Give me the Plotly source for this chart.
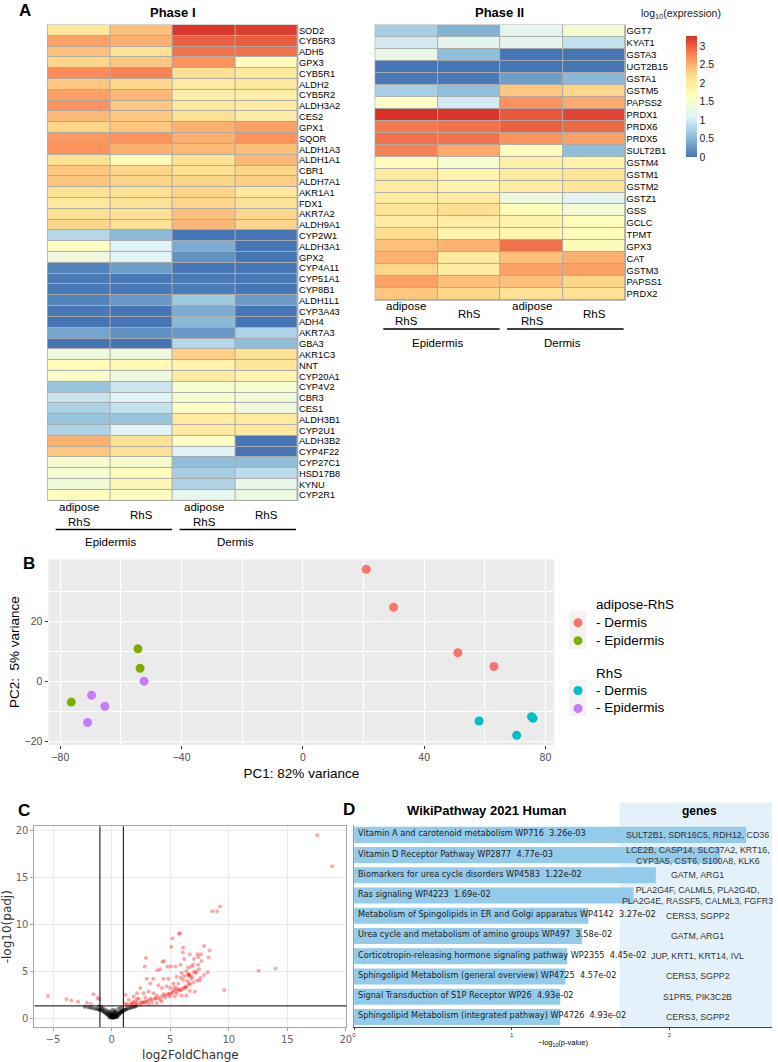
import math
import plotly.graph_objects as go

W, H = 778, 1062


def px(x):
    return x / W


def py(y):
    return 1 - y / H


# ---------------- data ----------------
columns = ["adipose<br>RhS", "RhS", "adipose<br>RhS", "RhS"]
groups = ["Epidermis", "Dermis"]

phase1_genes = ["SOD2", "CYB5R3", "ADH5", "GPX3", "CYB5R1", "ALDH2", "CYB5R2", "ALDH3A2", "CES2",
                "GPX1", "SQOR", "ALDH1A3", "ALDH1A1", "CBR1", "ALDH7A1", "AKR1A1", "FDX1", "AKR7A2",
                "ALDH9A1", "CYP2W1", "ALDH3A1", "GPX2", "CYP4A11", "CYP51A1", "CYP8B1", "ALDH1L1",
                "CYP3A43", "ADH4", "AKR7A3", "GBA3", "AKR1C3", "NNT", "CYP20A1", "CYP4V2", "CBR3",
                "CES1", "ALDH3B1", "CYP2U1", "ALDH3B2", "CYP4F22", "CYP27C1", "HSD17B8", "KYNU", "CYP2R1"]
p1_epi_adipose = [2.05, 2.6, 2.4, 2.25, 2.75, 2.35, 2.6, 2.7, 2.45, 2.25, 2.65, 2.7, 2.15, 2.35, 2.35,
                  2.15, 2.05, 2.15, 2.25, 0.8, 1.6, 1.35, 0.1, 0.03, 0.02, 0.1, 0.02, 0.0, 0.35, 0.0,
                  1.35, 1.7, 1.55, 0.6, 0.95, 0.75, 0.6, 0.75, 2.5, 2.35, 1.5, 1.5, 1.4, 1.65]
p1_epi_rhs = [2.4, 2.5, 2.15, 2.35, 2.8, 2.25, 2.45, 2.35, 2.35, 2.35, 2.7, 2.5, 1.75, 2.25, 2.25,
              2.15, 2.15, 2.15, 2.15, 0.5, 1.1, 1.1, 0.3, 0.03, 0.02, 0.25, 0.0, 0.0, 0.2, 0.0,
              1.35, 1.75, 1.35, 0.95, 1.1, 0.9, 0.6, 1.1, 2.15, 2.15, 1.5, 1.65, 1.8, 1.65]
p1_derm_adipose = [3.25, 3.0, 2.9, 2.7, 2.15, 2.0, 1.95, 2.05, 2.15, 2.5, 2.5, 2.45, 2.15, 2.15, 2.25,
                   2.25, 2.25, 2.4, 2.45, 0.0, 0.4, 0.2, 0.0, 0.03, 0.05, 0.65, 0.4, 0.5, 0.25, 0.8,
                   2.3, 1.85, 2.0, 1.5, 1.5, 1.6, 2.0, 2.0, 1.6, 1.1, 0.55, 0.7, 0.75, 1.2]
p1_derm_rhs = [3.2, 3.02, 2.9, 1.7, 2.05, 2.05, 1.95, 2.0, 1.95, 2.6, 2.7, 2.4, 2.45, 2.25, 2.3,
               2.05, 2.15, 2.25, 2.25, 0.0, 0.0, 0.0, 0.0, 0.02, 0.0, 0.28, 0.0, 0.0, 0.75, 0.55,
               2.15, 2.1, 1.85, 1.5, 1.4, 1.35, 2.0, 2.05, 0.0, 0.0, 0.55, 0.85, 1.25, 1.3]

phase2_genes = ["GGT7", "KYAT1", "GSTA3", "UGT2B15", "GSTA1", "GSTM5", "PAPSS2", "PRDX1", "PRDX6",
                "PRDX5", "SULT2B1", "GSTM4", "GSTM1", "GSTM2", "GSTZ1", "GSS", "GCLC", "TPMT", "GPX3",
                "CAT", "GSTM3", "PAPSS1", "PRDX2"]
p2_epi_adipose = [0.7, 1.0, 1.25, 0.0, 0.02, 0.7, 1.55, 3.28, 2.85, 2.9, 2.8, 1.7, 2.0, 2.0, 2.0,
                  2.1, 2.0, 2.2, 2.4, 2.5, 2.25, 2.6, 2.35]
p2_epi_rhs = [0.45, 1.2, 0.55, 0.0, 0.02, 0.55, 1.0, 3.25, 2.9, 2.88, 2.55, 1.5, 1.85, 1.85, 2.0,
              2.2, 1.95, 1.85, 2.5, 2.0, 2.0, 2.4, 2.25]
p2_derm_adipose = [1.2, 1.2, 0.0, 0.0, 0.3, 2.35, 2.7, 3.05, 3.0, 2.7, 1.65, 1.9, 2.0, 2.0, 1.35,
                   1.7, 1.85, 1.8, 2.9, 2.4, 2.6, 2.4, 2.15]
p2_derm_rhs = [1.45, 0.9, 0.0, 0.0, 0.5, 2.25, 2.55, 3.15, 2.95, 2.6, 0.55, 1.85, 2.1, 2.1, 1.15,
               1.45, 1.7, 1.7, 1.7, 2.5, 2.6, 2.25, 2.15]

# PCA
pc1_adipose_dermis = [20.9, 29.9, 51.1, 63.0]
pc2_adipose_dermis = [37.4, 24.7, 9.5, 4.9]
pc1_adipose_epidermis = [-54.4, -53.7, -76.4]
pc2_adipose_epidermis = [10.8, 4.3, -7.0]
pc1_rhs_dermis = [58.1, 70.5, 75.4, 75.9]
pc2_rhs_dermis = [-13.3, -18.1, -11.9, -12.4]
pc1_rhs_epidermis = [-52.4, -69.7, -65.3, -71.0]
pc2_rhs_epidermis = [0.0, -4.7, -8.4, -13.8]

# volcano
sig_fc = [17.57, 18.83, 9.26, 9.0, 8.6, 12.56, 14.0, 9.63,
          5.74, 5.85, 5.18, 5.1, 6.1, 6.08, 7.9, 8.36, 2.93, 2.82, 4.34, 4.48, 6.67, 7.32, 7.63, 7.04,
          8.28, 7.69, 6.19, 4.78, 5.07, 5.46, 5.89, 6.53, 6.96, 7.38, 7.46, 3.91, 4.14, 3.57, 3.0,
          4.42, 4.84, 5.55, 5.97, 6.39, 6.6, 6.8, 6.1, 6.45, 7.2, 7.5, 5.27, 5.7, 3.3, 4.0, 4.3, 4.7,
          5.0, 5.4, 5.8, 6.25, 6.67, 7.1, 2.45, 2.17, 2.73, 3.15, 3.58, 3.86, 4.42, 4.84, 5.13, 5.55,
          5.97, 6.39, 1.88, 2.31, 2.87, 3.3, 3.72, 4.14, 4.56, 4.98, 5.4, 2.0, 2.59, 3.0, 3.44, 3.86,
          4.28, 1.74, 2.45, 2.17, 2.79, 3.15,
          1.18, 1.46, 1.83, 2.17, 1.18, 1.75, 1.3, 1.55, 2.05,
          2.5, 2.8, 3.1, 3.4, 3.7, 4.0, 4.3, 4.6, 4.9, 5.2, 5.5, 5.8, 6.1, 6.4, 6.7, 7.0, 7.3, 7.6,
          7.9, 8.2, 5.3, 5.6, 6.0, 6.3, 6.6, 6.9, 7.2, 6.5, 6.2, 5.9, 6.6, 6.7, 7.0, 6.8, 7.4,
          -5.43, -3.86, -3.44, -2.87, -2.1, -1.55, -1.2, -1.05, -1.77]
sig_padj = [19.5, 16.2, 11.9, 11.4, 11.4, 5.04, 5.3, 2.98,
            9.0, 9.05, 8.5, 7.6, 7.5, 7.0, 7.7, 7.2, 6.4, 5.5, 6.0, 6.1, 6.8, 6.8, 6.8, 6.3,
            6.45, 6.1, 6.3, 5.5, 5.5, 5.5, 5.7, 5.4, 5.7, 5.7, 5.2, 5.1, 5.2, 4.2, 4.2,
            4.2, 4.2, 4.4, 4.8, 5.0, 4.6, 4.2, 4.1, 3.96, 4.8, 4.0, 3.7, 3.7, 3.7, 3.5, 3.2, 3.4,
            3.2, 3.3, 3.0, 3.2, 2.9, 2.8, 3.2, 2.65, 2.65, 2.83, 2.65, 2.4, 2.55, 2.55, 2.65, 2.65,
            2.4, 2.4, 2.3, 2.1, 2.2, 2.05, 2.1, 1.95, 2.2, 2.3, 2.3, 1.78, 1.7, 1.78, 1.6, 1.6,
            1.78, 1.53, 1.43, 1.6, 1.6, 1.5,
            2.48, 1.95, 1.7, 2.0, 1.55, 1.38, 1.42, 1.48, 1.45,
            1.65, 1.75, 1.85, 1.95, 2.05, 2.15, 2.3, 2.45, 2.6, 2.75, 2.9, 3.05, 3.2, 3.4, 3.6, 3.8,
            4.0, 4.3, 4.6, 4.9, 3.0, 3.1, 3.0, 3.3, 3.7, 4.4, 5.0, 4.6, 4.5, 4.3, 4.7, 4.5, 4.9, 5.5,
            6.5,
            2.34, 2.0, 1.88, 1.74, 1.63, 2.55, 2.13, 2.0, 1.49]
ns_fc = [-2.3, -2.0, -1.8, -1.6, -1.4, -1.25, -1.1, -1.0, -0.9, -0.8, -0.7, -0.6, -0.5, -0.45,
         -0.4, -0.35, -0.3, -0.25, -0.2, -0.15, -0.1, -0.05, 0.0, 0.05, 0.1, 0.1, 0.15, 0.2, 0.2,
         0.25, 0.3, 0.3, 0.35, 0.4, 0.4, 0.45, 0.5, 0.5, 0.55, 0.6, 0.65, 0.7, 0.75, 0.8, 0.85, 0.9,
         0.95, 1.0, 1.05, 1.15, 1.25, 1.35, 1.5, 1.65, 1.8, 1.95, 2.1, -0.05, 0.0, 0.05, 0.15, -0.1,
         0.25, 0.35, -0.2, 0.1, -0.6, -0.9, -1.1, -0.8, 0.6, 0.8, 0.0, 0.1, 0.2, 0.3, 0.05, 0.15,
         0.25, -0.15, 0.35, 0.45]
ns_padj = [1.2, 1.15, 1.1, 1.05, 1.0, 0.95, 0.9, 0.88, 0.85, 0.75, 0.7, 0.6, 0.5, 0.8,
           0.4, 0.6, 0.3, 0.45, 0.2, 0.35, 0.1, 0.25, 0.05, 0.15, 0.02, 0.3, 0.1, 0.2, 0.45,
           0.05, 0.3, 0.12, 0.22, 0.4, 0.08, 0.55, 0.3, 0.15, 0.45, 0.6, 0.35, 0.5, 0.7, 0.6, 0.75,
           0.65, 0.8, 0.75, 0.85, 0.9, 0.95, 1.0, 1.05, 1.1, 1.15, 1.2, 1.25, 0.5, 0.35, 0.45, 0.6,
           0.65, 0.7, 0.8, 0.75, 0.9, 0.95, 1.2, 1.25, 1.05, 1.0, 1.1, 0.2, 0.15, 0.1, 0.2, 0.28,
           0.33, 0.15, 0.05, 0.5, 0.25]

# WikiPathway enrichment
pathways = ["Vitamin A and carotenoid metabolism WP716", "Vitamin D Receptor Pathway WP2877",
            "Biomarkers for urea cycle disorders WP4583", "Ras signaling WP4223",
            "Metabolism of Spingolipids in ER and Golgi apparatus WP4142",
            "Urea cycle and metabolism of amino groups WP497",
            "Corticotropin-releasing hormone signaling pathway WP2355",
            "Sphingolipid Metabolism (general overview) WP4725",
            "Signal Transduction of S1P Receptor WP26",
            "Sphingolipid Metabolism (integrated pathway) WP4726"]
pvalues = [3.26e-03, 4.77e-03, 1.22e-02, 1.69e-02, 3.27e-02, 3.58e-02, 4.45e-02, 4.57e-02,
           4.93e-02, 4.93e-02]
pathway_genes = ["SULT2B1, SDR16C5, RDH12, CD36",
                 "LCE2B, CASP14, SLC37A2, KRT16,<br>CYP3A5, CST6, S100A8, KLK6",
                 "GATM, ARG1",
                 "PLA2G4F, CALML5, PLA2G4D,<br>PLA2G4E, RASSF5, CALML3, FGFR3",
                 "CERS3, SGPP2", "GATM, ARG1", "JUP, KRT1, KRT14, IVL", "CERS3, SGPP2",
                 "S1PR5, PIK3C2B", "CERS3, SGPP2"]

# ---------------- figure ----------------
rdylbu = ["#4575B4", "#91BFDB", "#E0F3F8", "#FFFFBF", "#FEE090", "#FC8D59", "#D73027"]
cscale = [[i / 6, c] for i, c in enumerate(rdylbu)]

fig = go.Figure()

z1 = [list(r) for r in zip(p1_epi_adipose, p1_epi_rhs, p1_derm_adipose, p1_derm_rhs)]
z2 = [list(r) for r in zip(p2_epi_adipose, p2_epi_rhs, p2_derm_adipose, p2_derm_rhs)]
fig.add_trace(go.Heatmap(z=z1, x=[0, 1, 2, 3], y=phase1_genes, coloraxis="coloraxis",
                         xgap=1, ygap=1, xaxis="x", yaxis="y"))
fig.add_trace(go.Heatmap(z=z2, x=[0, 1, 2, 3], y=phase2_genes, coloraxis="coloraxis",
                         xgap=1, ygap=1, xaxis="x2", yaxis="y2"))

pca_sets = [
    ("adipose-RhS", "- Dermis", pc1_adipose_dermis, pc2_adipose_dermis, "#F8766D"),
    ("adipose-RhS", "- Epidermis", pc1_adipose_epidermis, pc2_adipose_epidermis, "#7CAE00"),
    ("RhS", "- Dermis", pc1_rhs_dermis, pc2_rhs_dermis, "#00BFC4"),
    ("RhS", "- Epidermis", pc1_rhs_epidermis, pc2_rhs_epidermis, "#C77CFF"),
]
for gtitle, name, xs, ys, col in pca_sets:
    fig.add_trace(go.Scatter(x=xs, y=ys, mode="markers", name=f"{gtitle} {name}",
                             showlegend=False, marker=dict(size=9, color=col),
                             xaxis="x3", yaxis="y3"))

fig.add_trace(go.Scatter(x=ns_fc, y=ns_padj, mode="markers", showlegend=False,
                         marker=dict(size=4, color="rgba(0,0,0,0.45)"), xaxis="x4", yaxis="y4"))
fig.add_trace(go.Scatter(x=sig_fc, y=sig_padj, mode="markers", showlegend=False,
                         marker=dict(size=4, color="rgba(255,0,0,0.35)"), xaxis="x4", yaxis="y4"))

neglog = [-math.log10(p) for p in pvalues]
fig.add_trace(go.Bar(x=neglog, y=pathways, orientation="h", width=0.8, showlegend=False,
                     marker=dict(color="#94CBEB", line=dict(width=0)), xaxis="x5", yaxis="y5"))

hm_x = dict(range=[-0.5, 3.5], showticklabels=False, showgrid=False, zeroline=False)
hm_y = dict(side="right", autorange="reversed", ticks="", showgrid=False, zeroline=False,
            tickfont=dict(size=9.3, family="Liberation Sans, Arial"))

fig.update_layout(
    width=W, height=H, margin=dict(l=0, r=0, t=0, b=0),
    paper_bgcolor="white", plot_bgcolor="rgba(0,0,0,0)",
    font=dict(family="Liberation Sans, Arial", color="black"),
    showlegend=False,
    xaxis=dict(domain=[px(46), px(299)], anchor="y", **hm_x),
    yaxis=dict(domain=[py(501), py(24)], anchor="x", tickmode="array",
               tickvals=phase1_genes, ticktext=phase1_genes, **hm_y),
    xaxis2=dict(domain=[px(377), px(630)], anchor="y2", **hm_x),
    yaxis2=dict(domain=[py(300), py(24)], anchor="x2", tickmode="array",
                tickvals=phase2_genes, ticktext=phase2_genes, **hm_y),
    coloraxis=dict(colorscale=cscale, cmin=0, cmax=3.28,
                   colorbar=dict(x=px(681), xanchor="left", y=py(25), yanchor="top",
                                 lenmode="pixels", len=141, thickness=11, outlinewidth=0,
                                 tickvals=[0, 0.5, 1, 1.5, 2, 2.5, 3],
                                 ticktext=["0", "0.5", "1", "1.5", "2", "2.5", "3"],
                                 ticks="", tickfont=dict(size=10.5, color="#222"))),
    xaxis3=dict(domain=[px(47), px(558)], anchor="y3", range=[-83.9, 82.9],
                tickmode="array", tickvals=[-80, -40, 0, 40, 80], showgrid=True,
                gridcolor="white", gridwidth=1.1, zeroline=False, ticks="outside", ticklen=3,
                tickcolor="#333", tickfont=dict(size=10.5, color="#4D4D4D"),
                minor=dict(tickvals=[-60, -20, 20, 60], showgrid=True, gridcolor="white",
                           gridwidth=0.5, ticks=""),
                title=dict(text="PC1: 82% variance", font=dict(size=13.5), standoff=6)),
    yaxis3=dict(domain=[py(746), py(560)], anchor="x3", range=[-21.3, 40.7],
                tickmode="array", tickvals=[-20, 0, 20], showgrid=True,
                gridcolor="white", gridwidth=1.1, zeroline=False, ticks="outside", ticklen=3,
                tickcolor="#333", tickfont=dict(size=10.5, color="#4D4D4D"),
                minor=dict(tickvals=[-10, 10, 30], showgrid=True, gridcolor="white",
                           gridwidth=0.5, ticks=""),
                title=dict(text="PC2:  5% variance", font=dict(size=13.5), standoff=1)),
    xaxis4=dict(domain=[px(32.7), px(348)], anchor="y4", range=[-6.6, 20.05],
                tickvals=[-5, 0, 5, 10, 15, 20], showgrid=True, gridcolor="#EBEBEB",
                zeroline=False, showline=True, mirror=True, linecolor="#A6A6A6", linewidth=1,
                ticks="outside", ticklen=3, tickcolor="#A6A6A6",
                tickfont=dict(size=10, family="DejaVu Sans", color="#666"),
                title=dict(text="log2FoldChange", font=dict(size=12, family="DejaVu Sans",
                                                            color="#333"), standoff=6)),
    yaxis4=dict(domain=[py(1029), py(827.7)], anchor="x4", range=[-0.96, 20.45],
                tickvals=[0, 5, 10, 15, 20], showgrid=True, gridcolor="#EBEBEB",
                zeroline=False, showline=True, mirror=True, linecolor="#A6A6A6", linewidth=1,
                ticks="outside", ticklen=3, tickcolor="#A6A6A6",
                tickfont=dict(size=10, family="DejaVu Sans", color="#666"),
                title=dict(text="-log10(padj)", font=dict(size=12, family="DejaVu Sans",
                                                          color="#333"), standoff=4)),
    xaxis5=dict(domain=[px(355.7), 1], anchor="y5", range=[0, 2.65], tickvals=[0, 1, 2],
                showgrid=False, zeroline=False, showline=True, linecolor="#444", linewidth=0.8,
                ticks="outside", ticklen=2, tickcolor="#444",
                tickfont=dict(size=6, color="#333"),
                title=dict(text="\u2212log<sub>10</sub>(p-value)", font=dict(size=7.5),
                           standoff=2)),
    yaxis5=dict(domain=[py(1029), py(826)], anchor="x5", autorange="reversed",
                showticklabels=False, ticks="", showgrid=False, zeroline=False,
                showline=True, linecolor="#999", linewidth=0.8),
    bargap=0.2,
)

shapes = [
    dict(type="rect", xref="paper", yref="paper", x0=px(45.5), x1=px(299.5), y0=py(501.5),
         y1=py(23.5), fillcolor="#ABABAB", line=dict(width=0), layer="below"),
    dict(type="rect", xref="paper", yref="paper", x0=px(376.5), x1=px(630.5), y0=py(300.5),
         y1=py(23.5), fillcolor="#ABABAB", line=dict(width=0), layer="below"),
    dict(type="rect", xref="paper", yref="paper", x0=px(47), x1=px(558), y0=py(746),
         y1=py(560), fillcolor="#EBEBEB", line=dict(width=0), layer="below"),
    dict(type="rect", xref="paper", yref="paper", x0=px(573), x1=px(590), y0=py(650),
         y1=py(612), fillcolor="#F2F2F2", line=dict(width=0), layer="below"),
    dict(type="rect", xref="paper", yref="paper", x0=px(573), x1=px(590), y0=py(717),
         y1=py(681), fillcolor="#F2F2F2", line=dict(width=0), layer="below"),
    dict(type="rect", xref="paper", yref="paper", x0=px(624), x1=1, y0=py(1029),
         y1=py(804), fillcolor="#E5F1FA", line=dict(width=0), layer="below"),
    # volcano thresholds
    dict(type="line", xref="x4", yref="y4 domain", x0=-1, x1=-1, y0=0, y1=1,
         line=dict(color="black", width=1)),
    dict(type="line", xref="x4", yref="y4 domain", x0=1, x1=1, y0=0, y1=1,
         line=dict(color="black", width=1)),
    dict(type="line", xref="x4 domain", yref="y4", x0=0, x1=1, y0=-math.log10(0.05),
         y1=-math.log10(0.05), line=dict(color="black", width=1)),
]
# group lines under heatmap columns
for xr, ly in [("x", 530), ("x2", 329)]:
    for a, b in [(-0.37, 1.49), (1.61, 3.47)]:
        shapes.append(dict(type="line", xref=xr, yref="paper", x0=a, x1=b, y0=py(ly), y1=py(ly),
                           line=dict(color="black", width=1.6)))

ann = []


def label(text, x, y, size, bold=False, **kw):
    t = f"<b>{text}</b>" if bold else text
    d = dict(text=t, x=px(x), y=py(y), xref="paper", yref="paper", showarrow=False,
             font=dict(size=size, color=kw.pop("color", "black"),
                       family=kw.pop("family", "Liberation Sans, Arial")),
             xanchor=kw.pop("xanchor", "center"), yanchor=kw.pop("yanchor", "middle"))
    d.update(kw)
    ann.append(d)


# PCA legend (grouped keys like ggplot)
legend_rows = [(605, None, "adipose-RhS"), (623, 0, "- Dermis"), (641, 1, "- Epidermis"),
               (674, None, "RhS"), (691, 2, "- Dermis"), (709, 3, "- Epidermis")]
for yy, idx, txt in legend_rows:
    label(txt, 598, yy, 13.5, xanchor="left")
    if idx is not None:
        col = pca_sets[idx][4]
        shapes.append(dict(type="circle", xref="paper", yref="paper", x0=px(577.5),
                           x1=px(586.5), y0=py(yy + 5), y1=py(yy - 4), fillcolor=col,
                           line=dict(width=0)))
fig.update_layout(shapes=shapes)

label("A", 23, 10, 17, True)
label("B", 27, 564, 17, True)
label("C", 22, 812, 17, True)
label("D", 351, 811, 17, True)
label("Phase I", 173, 12, 13, True)
label("Phase II", 503, 12, 13, True)
label("log<sub>10</sub>(expression)", 686, 13, 10.5, color="#222")
label("WikiPathway 2021 Human", 490, 812, 13, True)
label("genes", 705, 812, 12, True)

for xr, ly, gy in [("x", 515, 543), ("x2", 313.5, 343)]:
    for i, c in enumerate(columns):
        ann.append(dict(text=c, x=i, xref=xr, y=py(ly), yref="paper", showarrow=False,
                        font=dict(size=11.5), xanchor="center", yanchor="middle"))
    for i, g in enumerate(groups):
        ann.append(dict(text=g, x=0.5 + 2 * i, xref=xr, y=py(gy), yref="paper", showarrow=False,
                        font=dict(size=11.5), xanchor="center", yanchor="middle"))

for name, p, genes in zip(pathways, pvalues, pathway_genes):
    ann.append(dict(text=f"{name}  {p:.2e}", x=0, xref="x5", y=name, yref="y5", xanchor="left",
                    yanchor="middle", xshift=2, yshift=1.5, showarrow=False,
                    font=dict(size=8.2, family="DejaVu Sans", color="#222")))
    ann.append(dict(text=genes, x=px(703), xref="paper", y=name, yref="y5", xanchor="center",
                    yanchor="middle", showarrow=False,
                    font=dict(size=8.8, color="#333")))

fig.update_layout(annotations=ann)

fig.write_html("out.html", config={"displayModeBar": False},
               post_script="document.body.style.margin='0';")
